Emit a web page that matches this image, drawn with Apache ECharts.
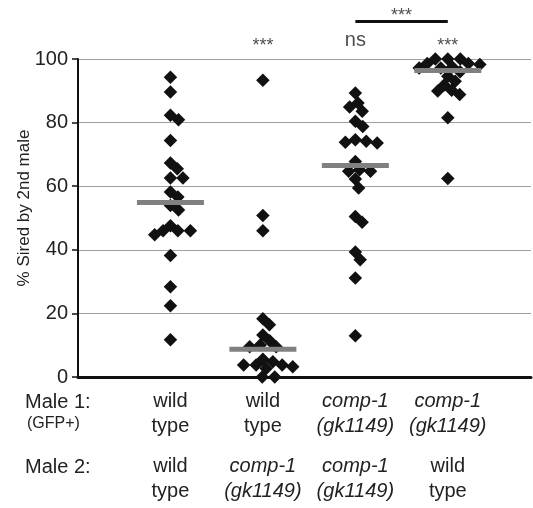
<!DOCTYPE html>
<html>
<head>
<meta charset="utf-8">
<script src="https://cdn.jsdelivr.net/npm/echarts@6/dist/echarts.min.js"></script>
<style>
  html, body { margin: 0; padding: 0; background: #fff; }
  #main { width: 533px; height: 508px; }
</style>
</head>
<body>
<div id="main"></div>
<script>
// 数据：各组第二雄性后代比例（%），按图中自上而下读取
var wtWt = [94.3, 89.6, 82.3, 80.9, 74.4, 67.3, 65.5, 62.6, 62.6, 58.2, 56.6, 53.9, 52.5,
            47.6, 46.0, 46.0, 46.0, 44.7, 38.2, 28.4, 22.4, 11.7];
var wtComp = [93.3, 50.8, 46.0, 18.3, 16.4, 13.2, 11.4, 10.1, 9.5, 9.5, 5.6, 4.8,
              3.8, 3.8, 3.8, 3.2, 2.7, 0, 0];
var compComp = [89.3, 86.2, 84.9, 83.6, 80.4, 78.8, 74.6, 74.1, 73.8, 73.6, 67.8, 65.2,
                64.7, 64.7, 62.3, 59.4, 50.5, 48.7, 39.3, 36.9, 31.1, 13.0];
var compWt = [100, 100, 100, 98.6, 98.6, 98.3, 97.5, 97.2, 97.2, 96.0, 94.6, 93.0,
              91.8, 90.2, 89.9, 88.8, 81.5, 62.4];
var groups = [wtWt, wtComp, compComp, compWt];
var medians = [54.9, 8.7, 66.5, 96.4];

var male1Labels = ['wild\ntype', 'wild\ntype', 'comp-1\n(gk1149)', 'comp-1\n(gk1149)'];
var male1Italic = [false, false, true, true];
var male2Labels = ['wild\ntype', 'comp-1\n(gk1149)', 'comp-1\n(gk1149)', 'wild\ntype'];
var male2Italic = [false, true, true, false];

var sigText = ['***', 'ns', '***'];
var sigGroup = [2, 3, 4];

var FONT = 'Liberation Sans, Arial, sans-serif';
var SIZE = 12.5; // 菱形大小

var myChart = echarts.init(document.getElementById('main'));

function labelFmt(labels, italic) {
    return function (value) {
        var i = Math.round(value);
        if (Math.abs(value - i) > 1e-6 || i < 1 || i > 4) return '';
        var st = italic[i - 1] ? 'i' : 'n';
        return labels[i - 1].split('\n').map(function (l) {
            return '{' + st + '|' + l + '}';
        }).join('\n');
    };
}
var rich = {
    n: { fontSize: 20, lineHeight: 25, color: '#222', fontFamily: FONT },
    i: { fontSize: 20, lineHeight: 25, color: '#222', fontFamily: FONT, fontStyle: 'italic' }
};

function xAxisOpt(labels, italic, offset) {
    return {
        type: 'value', min: 0, max: 4.9, interval: 1,
        position: 'bottom', offset: offset,
        splitLine: { show: false },
        axisTick: { show: false },
        axisLine: { show: offset === 0, onZero: false, lineStyle: { color: '#111', width: 3 } },
        axisLabel: { margin: 12, showMaxLabel: false, formatter: labelFmt(labels, italic), rich: rich }
    };
}

var option = {
    animation: false,
    grid: { left: 78, right: 2, top: 59, bottom: 131, outerBoundsMode: 'none' },
    xAxis: [
        xAxisOpt(male1Labels, male1Italic, 0),
        xAxisOpt(male2Labels, male2Italic, 65)
    ],
    yAxis: {
        type: 'value', min: 0, max: 100, interval: 20,
        name: '% Sired by 2nd male',
        nameLocation: 'middle',
        nameGap: 45,
        nameMoveOverlap: false,
        nameTextStyle: { fontSize: 17, color: '#222', fontFamily: FONT, padding: [0, 0, 0, 20] },
        axisLine: { show: true, lineStyle: { color: '#111', width: 2 } },
        axisTick: { show: true, length: 6, lineStyle: { color: '#111', width: 1.5 } },
        axisLabel: { margin: 10, fontSize: 20, color: '#222', fontFamily: FONT },
        splitLine: { lineStyle: { color: '#a0a0a0', width: 1.2 } }
    },
    graphic: [
        { type: 'text', x: 25, y: 402, style: { text: 'Male 1:', font: '20px ' + FONT, fill: '#222', verticalAlign: 'middle' } },
        { type: 'text', x: 27, y: 424, style: { text: '(GFP+)', font: '16px ' + FONT, fill: '#222', verticalAlign: 'middle' } },
        { type: 'text', x: 25, y: 467, style: { text: 'Male 2:', font: '20px ' + FONT, fill: '#222', verticalAlign: 'middle' } }
    ],
    series: []
};
myChart.setOption(option);

// 蜂群排布：按像素避免菱形重叠
function swarm(values, cx) {
    var placed = [];
    return values.map(function (v) {
        var p = myChart.convertToPixel({ gridIndex: 0 }, [cx, v]);
        var cands = [0];
        placed.forEach(function (q) {
            var dy = Math.abs(q[1] - p[1]);
            if (dy < SIZE) {
                cands.push(q[0] + (SIZE - dy));
                cands.push(q[0] - (SIZE - dy));
            }
        });
        cands.sort(function (a, b) { return Math.abs(a) - Math.abs(b); });
        var off = 0;
        for (var k = 0; k < cands.length; k++) {
            var c = cands[k];
            var ok = placed.every(function (q) {
                return Math.abs(q[0] - c) + Math.abs(q[1] - p[1]) >= SIZE - 0.01;
            });
            if (ok) { off = c; break; }
        }
        placed.push([off, p[1]]);
        return myChart.convertFromPixel({ gridIndex: 0 }, [p[0] + off, p[1]]);
    });
}

var pts = [];
groups.forEach(function (g, i) {
    swarm(g, i + 1).forEach(function (d) { pts.push(d); });
});

myChart.setOption({
    series: [
        {
            type: 'scatter', clip: false, z: 3,
            symbol: 'diamond', symbolSize: SIZE + 1,
            itemStyle: { color: '#111', opacity: 1 },
            data: pts
        },
        {
            type: 'scatter', clip: false, z: 4,
            symbol: 'rect', symbolSize: [67, 5],
            itemStyle: { color: '#808080', opacity: 1 },
            data: medians.map(function (m, i) { return [i + 1, m]; })
        },
        {
            type: 'scatter', clip: false, z: 5, symbolSize: 0,
            label: {
                show: true, position: 'inside', formatter: '{b}',
                color: '#222', fontFamily: FONT
            },
            data: sigText.map(function (t, i) {
                return { name: t, value: [sigGroup[i], t === 'ns' ? 105.8 : 104.0],
                    label: { fontSize: t === 'ns' ? 20 : 18 } };
            }).concat([{ name: '***', value: [3.5, 113.4], label: { fontSize: 18 } }])
        },
        {
            type: 'line', clip: false, z: 5, symbol: 'none',
            lineStyle: { color: '#111', width: 3 },
            data: [[3, 111.8], [4, 111.8]]
        }
    ]
});

window.onresize = function () {
    myChart.resize();
};
</script>
</body>
</html>
